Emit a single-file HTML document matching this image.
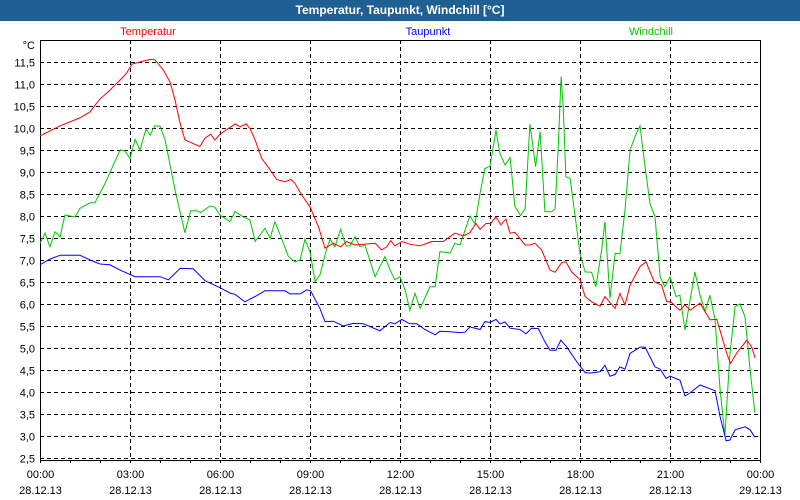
<!DOCTYPE html>
<html><head><meta charset="utf-8">
<style>
body{margin:0;background:#fff;font-family:"Liberation Sans",sans-serif;}
#wrap{position:relative;width:800px;height:500px;overflow:hidden;background:#fff;}
#title{position:absolute;left:0;top:0;width:800px;height:21px;background:#1f5f94;color:#fff;font-weight:bold;font-size:12px;text-align:center;line-height:21px;}
svg{position:absolute;left:0;top:0;}
</style></head><body>
<div id="wrap">
<div id="title">Temperatur, Taupunkt, Windchill [°C]</div>
<svg id="chart" width="800" height="500" font-family="Liberation Sans, sans-serif"></svg>
</div>
<script>
const yTicks=[11.5,11.0,10.5,10.0,9.5,9.0,8.5,8.0,7.5,7.0,6.5,6.0,5.5,5.0,4.5,4.0,3.5,3.0,2.5];
const xTickHours=[0,3,6,9,12,15,18,21,24];
const xTimeLabels=["00:00","03:00","06:00","09:00","12:00","15:00","18:00","21:00","00:00"];
const xDateLabels=["28.12.13","28.12.13","28.12.13","28.12.13","28.12.13","28.12.13","28.12.13","28.12.13","29.12.13"];
const seriesNames=["Temperatur","Taupunkt","Windchill"];
const tempHours=[0,0.67,1.33,1.67,2,2.33,2.67,2.89,3.06,3.33,3.67,3.83,4.11,4.33,4.5,4.67,4.83,5.33,5.5,5.69,5.83,6.0,6.5,6.67,6.87,7.0,7.17,7.39,7.67,7.89,8.17,8.36,8.5,8.72,9.0,9.28,9.5,9.78,10.02,10.22,10.5,11.17,11.39,11.56,11.69,11.83,12.06,12.33,12.67,13.06,13.44,13.83,14.11,14.33,14.53,14.67,14.87,15.02,15.2,15.36,15.53,15.67,15.83,16.17,16.33,16.5,16.72,17,17.17,17.39,17.53,17.72,18.0,18.17,18.39,18.67,18.83,19.17,19.33,19.5,19.67,20.0,20.2,20.47,20.72,20.89,21.02,21.33,21.5,21.67,22.0,22.33,22.56,22.89,23.02,23.22,23.56,23.72,23.84];
const tempValues=[9.82,10.05,10.23,10.37,10.66,10.86,11.09,11.25,11.45,11.5,11.56,11.55,11.32,11.05,10.64,10.11,9.73,9.58,9.77,9.86,9.73,9.86,10.09,10.03,10.09,9.99,9.73,9.31,9.05,8.83,8.78,8.83,8.74,8.48,8.21,7.76,7.27,7.38,7.30,7.42,7.34,7.38,7.23,7.30,7.44,7.32,7.42,7.36,7.32,7.42,7.42,7.61,7.55,7.62,7.83,7.70,7.83,7.83,7.98,7.80,7.93,7.61,7.63,7.34,7.34,7.38,7.23,6.77,6.72,6.94,6.96,6.73,6.55,6.17,6.05,5.95,6.17,5.90,6.24,5.98,6.43,6.85,6.96,6.51,6.43,6.05,6.05,5.86,5.98,5.86,6.02,5.64,5.65,4.88,4.65,4.88,5.18,5.03,4.77];
const dewHours=[0,0.33,0.67,1.33,1.67,2.0,2.33,2.67,3.17,4.0,4.28,4.67,5.11,5.5,6.0,6.33,6.5,6.83,7.17,7.5,8.17,8.33,8.67,8.89,9.02,9.33,9.5,9.78,10.11,10.44,10.78,11.33,11.67,11.83,12.06,12.33,12.56,12.83,13.17,13.33,13.67,14.0,14.17,14.33,14.67,14.83,15.0,15.2,15.33,15.5,15.67,16.0,16.2,16.39,16.61,16.83,17.0,17.2,17.36,17.56,17.89,18.17,18.33,18.67,18.83,19.0,19.17,19.33,19.5,19.67,20.0,20.17,20.5,20.67,20.87,21.0,21.33,21.5,21.67,22.0,22.5,22.67,22.87,23.0,23.17,23.5,23.67,23.83];
const dewValues=[6.89,7.02,7.11,7.11,7.0,6.91,6.89,6.77,6.62,6.62,6.55,6.81,6.8,6.53,6.37,6.25,6.22,6.05,6.17,6.30,6.30,6.23,6.23,6.32,6.30,5.90,5.60,5.61,5.50,5.56,5.55,5.39,5.58,5.55,5.65,5.55,5.55,5.42,5.30,5.38,5.37,5.35,5.36,5.48,5.42,5.60,5.58,5.65,5.55,5.59,5.45,5.42,5.32,5.45,5.44,5.14,4.95,4.95,5.18,5.02,4.69,4.44,4.43,4.46,4.61,4.36,4.40,4.57,4.52,4.88,5.02,5.02,4.57,4.52,4.31,4.36,4.27,3.91,3.98,4.16,4.03,3.44,2.89,2.91,3.14,3.21,3.14,2.97];
const windHours=[0,0.17,0.33,0.5,0.67,0.83,1.17,1.33,1.67,1.83,2.17,2.67,2.83,3.0,3.17,3.33,3.53,3.67,3.83,4.0,4.17,4.5,4.83,5.02,5.22,5.36,5.67,5.83,6.0,6.33,6.5,6.78,7.0,7.17,7.5,7.67,7.83,8.0,8.28,8.5,8.67,8.83,9.0,9.17,9.33,9.56,9.67,9.83,10.02,10.2,10.33,10.5,10.67,10.83,11.17,11.5,11.67,11.83,12.0,12.17,12.33,12.5,12.67,13.0,13.17,13.33,13.67,13.83,14.0,14.33,14.5,14.67,14.83,15.0,15.2,15.33,15.5,15.67,15.83,16.02,16.17,16.33,16.52,16.67,16.83,17.06,17.17,17.28,17.37,17.44,17.53,17.67,18.0,18.17,18.39,18.53,18.72,18.83,19.0,19.17,19.33,19.5,19.67,19.83,20.0,20.17,20.33,20.5,20.67,20.83,21.0,21.2,21.33,21.5,21.67,21.83,22.0,22.17,22.33,22.5,22.67,22.83,23.0,23.17,23.33,23.5,23.67,23.83];
const windValues=[7.38,7.61,7.30,7.64,7.52,8.02,7.98,8.17,8.30,8.30,8.74,9.5,9.48,9.31,9.74,9.5,9.97,9.84,10.05,10.04,9.73,8.59,7.62,8.12,8.12,8.08,8.23,8.2,8.02,7.87,8.10,7.98,7.91,7.42,7.72,7.49,7.87,7.58,7.08,6.96,7.0,7.47,7.19,6.51,6.66,7.27,7.47,7.30,7.70,7.32,7.32,7.53,7.30,7.34,6.62,7.08,6.77,6.55,6.62,6.32,5.86,6.24,5.90,6.39,6.39,7.19,7.16,7.38,7.34,8.0,7.82,8.52,9.08,9.13,9.95,9.42,9.16,9.33,8.22,8.01,8.16,10.09,9.12,9.92,8.10,8.10,8.16,9.65,11.17,10.48,8.89,8.86,7.15,6.73,6.72,6.39,7.23,7.87,6.13,7.15,7.14,8.14,9.5,9.80,10.05,9.12,8.29,7.98,6.62,6.39,6.62,6.17,6.20,5.41,6.09,6.73,6.20,5.83,6.2,5.65,4.05,3.02,4.88,5.94,6.0,5.71,4.5,3.52];

const NS="http://www.w3.org/2000/svg";
const svg=document.getElementById('chart');
const L=40,R=760,T=40,B=460;
const xS=h=>L+h*(R-L)/24;
const yS=v=>62+(11.5-v)*44;
function mk(tag,attrs){const e=document.createElementNS(NS,tag);for(const k in attrs)e.setAttribute(k,attrs[k]);svg.appendChild(e);return e;}

yTicks.forEach(v=>{
  const y=Math.round(yS(v))+0.5;
  const g=mk('line',{x1:L,x2:R,y1:y,y2:y,stroke:'#000','stroke-dasharray':'4,3','stroke-width':1});
  
  
  const t=mk('text',{x:35,y:y+4,'text-anchor':'end','font-size':'11px',fill:'#000'});
  t.textContent=v.toFixed(1).replace('.',',');
  
  
});
const unit=mk('text',{x:35,y:49,'text-anchor':'end','font-size':'11px',fill:'#000'});
unit.textContent='°C';



for(let h=0;h<=24;h++){
  const x=Math.round(xS(h))+0.5;
  const tk=mk('line',{x1:x,x2:x,y1:B,y2:B+3,stroke:'#000'});
  
  
}
xTickHours.forEach((h,i)=>{
  const x=Math.round(xS(h))+0.5;
  if(h>0&&h<24){
    const g=mk('line',{x1:x,x2:x,y1:T,y2:B,stroke:'#000','stroke-dasharray':'4,3'});
    
    
  }
  const t1=mk('text',{x:x,y:478,'text-anchor':'middle','font-size':'11px',fill:'#000'});
  t1.textContent=xTimeLabels[i];
  
  
  const t2=mk('text',{x:x,y:494,'text-anchor':'middle','font-size':'11px',fill:'#000'});
  t2.textContent=xDateLabels[i];
  
  
});

const frame=mk('rect',{x:L+0.5,y:T+0.5,width:R-L,height:B-T,fill:'none',stroke:'#000'});



function line(hs,vs,color,name){
  const p=mk('polyline',{points:hs.map((h,i)=>xS(h).toFixed(1)+','+yS(vs[i]).toFixed(1)).join(' '),fill:'none',stroke:color,'stroke-width':1});
  
  
}
line(windHours,windValues,'#00c800','windchill-line');
line(tempHours,tempValues,'#ff0000','temperatur-line');
line(dewHours,dewValues,'#0000ff','taupunkt-line');

const legX=[148,428,651], legC=['#ff0000','#0000ff','#00c800'];
seriesNames.forEach((n,i)=>{
  const t=mk('text',{x:legX[i],y:35,'text-anchor':'middle','font-size':'11px',fill:legC[i]});
  t.textContent=n;
  
  
});
</script>
</body></html>
